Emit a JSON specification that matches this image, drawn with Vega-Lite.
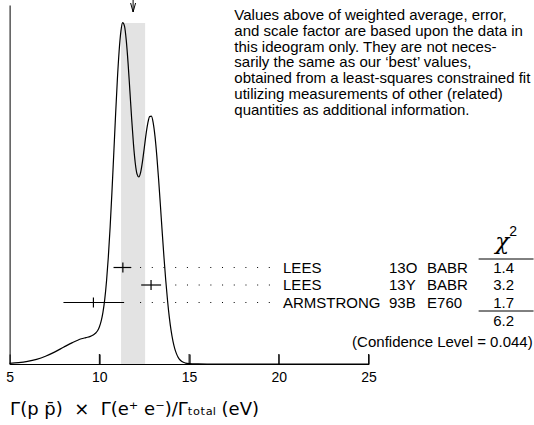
{
  "$schema": "https://vega.github.io/schema/vega-lite/v6.json",
  "width": 359,
  "height": 359,
  "autosize": "none",
  "padding": {"left": 9.6, "top": 5, "right": 165.4, "bottom": 61},
  "background": "white",
  "config": {
    "view": {"stroke": null},
    "axis": {"grid": false, "domainColor": "black", "tickColor": "black", "labelColor": "black", "titleColor": "black"},
    "text": {"font": "Liberation Sans", "fontSize": 15, "color": "black"}
  },
  "resolve": {"axis": {"x": "independent", "y": "independent"}},
  "datasets": {
    "curve": [
      {"x": 5.0, "h": 0.6}, {"x": 5.5, "h": 1.3}, {"x": 6.0, "h": 2.6}, {"x": 6.5, "h": 4.7},
      {"x": 7.0, "h": 7.8}, {"x": 7.5, "h": 11.9}, {"x": 8.0, "h": 16.7}, {"x": 8.5, "h": 21.4},
      {"x": 9.0, "h": 25.2}, {"x": 9.25, "h": 26.4}, {"x": 9.5, "h": 27.6}, {"x": 9.6, "h": 28.5},
      {"x": 9.7, "h": 29.6}, {"x": 9.8, "h": 31.0}, {"x": 9.9, "h": 33.2}, {"x": 10.0, "h": 37.0},
      {"x": 10.1, "h": 42.8}, {"x": 10.2, "h": 51.6}, {"x": 10.3, "h": 64.6}, {"x": 10.4, "h": 83.0},
      {"x": 10.5, "h": 107.0}, {"x": 10.6, "h": 136.8}, {"x": 10.7, "h": 171.4}, {"x": 10.8, "h": 209.2},
      {"x": 10.9, "h": 247.6}, {"x": 11.0, "h": 283.2}, {"x": 11.1, "h": 312.5}, {"x": 11.2, "h": 332.6},
      {"x": 11.3, "h": 341.3}, {"x": 11.4, "h": 337.9}, {"x": 11.5, "h": 323.6}, {"x": 11.6, "h": 300.9},
      {"x": 11.7, "h": 273.4}, {"x": 11.8, "h": 245.2}, {"x": 11.9, "h": 220.1}, {"x": 12.0, "h": 201.0},
      {"x": 12.1, "h": 189.9}, {"x": 12.2, "h": 187.0}, {"x": 12.3, "h": 191.6}, {"x": 12.4, "h": 202.1},
      {"x": 12.5, "h": 215.7}, {"x": 12.6, "h": 229.6}, {"x": 12.7, "h": 240.8}, {"x": 12.8, "h": 247.4},
      {"x": 12.9, "h": 247.8}, {"x": 13.0, "h": 241.1}, {"x": 13.1, "h": 227.6}, {"x": 13.2, "h": 208.4},
      {"x": 13.3, "h": 185.0}, {"x": 13.4, "h": 159.0}, {"x": 13.5, "h": 132.4}, {"x": 13.6, "h": 106.8},
      {"x": 13.7, "h": 83.5}, {"x": 13.8, "h": 63.3}, {"x": 13.9, "h": 46.4}, {"x": 14.0, "h": 33.1},
      {"x": 14.1, "h": 22.8}, {"x": 14.2, "h": 15.4}, {"x": 14.3, "h": 10.1}, {"x": 14.4, "h": 6.4},
      {"x": 14.5, "h": 4.0}, {"x": 14.6, "h": 2.4}, {"x": 14.8, "h": 0.9}, {"x": 15.0, "h": 0.4},
      {"x": 15.5, "h": 0.1}, {"x": 16.0, "h": 0.0}, {"x": 25.0, "h": 0.0}
    ],
    "meas": [
      {"author": "LEES", "code": "13O", "tech": "BABR", "chi2": "1.4", "value": 11.31, "lo": 10.79, "hi": 11.78, "level": 96.5, "dotfrom": 12.27, "dotto": 19.62},
      {"author": "LEES", "code": "13Y", "tech": "BABR", "chi2": "3.2", "value": 12.88, "lo": 12.33, "hi": 13.44, "level": 79, "dotfrom": 14.23, "dotto": 19.62},
      {"author": "ARMSTRONG", "code": "93B", "tech": "E760", "chi2": "1.7", "value": 9.67, "lo": 8.0, "hi": 11.38, "level": 61.5, "dotfrom": 12.27, "dotto": 19.62}
    ],
    "avg": [{"mean": 11.88, "lo": 11.21, "hi": 12.55, "top": 341, "base": 0, "arrowFrom": 352, "arrowTo": 364, "arrowHead": 356.5}],
    "ticks": [
      {"v": 10, "from": 0, "to": 10},
      {"v": 15, "from": 0, "to": 10},
      {"v": 20, "from": 0, "to": 10},
      {"v": 25, "from": 0, "to": 10}
    ],
    "chiLines": [
      {"x1": 31.13, "x2": 34.19, "y": 105},
      {"x1": 31.13, "x2": 34.19, "y": 53}
    ],
    "chiHead": [{"x": 32.45, "y": 122, "label": "χ"}],
    "chiSup": [{"x": 33.05, "y": 132, "label": "2"}],
    "chiSum": [{"x": 32.52, "y": 43, "label": "6.2"}],
    "conf": [{"x": 34.14, "y": 22, "label": "(Confidence Level = 0.044)"}],
    "para": [{"x": 17.52, "y": 356, "label": "Values above of weighted average, error,\nand scale factor are based upon the data in\nthis ideogram only.  They are not neces-\nsarily the same as our ‘best’ values,\nobtained from a least-squares constrained fit\nutilizing measurements of other (related)\nquantities as additional information."}]
  },
  "layer": [
    {
      "data": {"name": "avg"},
      "mark": {"type": "rect", "color": "#e3e3e3"},
      "encoding": {
        "x": {"field": "lo", "type": "quantitative", "scale": {"domain": [5, 25], "nice": false, "zero": false}, "axis": null},
        "x2": {"field": "hi"},
        "y": {"field": "base", "type": "quantitative", "scale": {"domain": [0, 359], "nice": false, "zero": false}, "axis": null},
        "y2": {"field": "top"}
      }
    },
    {
      "data": {"name": "curve"},
      "mark": {"type": "line", "color": "black", "strokeWidth": 1.2, "interpolate": "monotone"},
      "encoding": {
        "x": {
          "field": "x", "type": "quantitative",
          "scale": {"domain": [5, 25], "nice": false, "zero": false},
          "axis": {
            "orient": "bottom",
            "values": [5, 10, 15, 20, 25],
            "ticks": true,
            "tickSize": -10, "tickColor": "black", "tickWidth": 1,
            "domainColor": "black", "domainWidth": 1,
            "grid": false,
            "labelPadding": 16, "labelFont": "Liberation Sans", "labelFontSize": 14, "labelColor": "black",
            "labelFlush": false, "labelOverlap": false,
            "title": "Γ(p p̄)\u00a0\u00a0×\u00a0\u00a0Γ(e⁺\u00a0e⁻)/Γₜₒₜₐₗ\u00a0(eV)",
            "titleFont": "DejaVu Sans", "titleFontSize": 18, "titleFontWeight": "normal", "titleColor": "black",
            "titleAnchor": "start", "titleAlign": "left", "titlePadding": 16
          }
        },
        "y": {
          "field": "h", "type": "quantitative",
          "scale": {"domain": [0, 359], "nice": false, "zero": false},
          "axis": {"orient": "left", "domain": true, "domainColor": "black", "domainWidth": 1, "ticks": false, "labels": false, "grid": false, "title": null}
        }
      }
    },
    {
      "data": {"name": "ticks"},
      "mark": {"type": "rule", "color": "black", "strokeWidth": 1},
      "encoding": {
        "x": {"field": "v", "type": "quantitative", "scale": {"domain": [5, 25], "nice": false, "zero": false}, "axis": null},
        "y": {"field": "from", "type": "quantitative", "scale": {"domain": [0, 359], "nice": false, "zero": false}, "axis": null},
        "y2": {"field": "to"}
      }
    },
    {
      "data": {"name": "avg"},
      "mark": {"type": "rule", "color": "black", "strokeWidth": 1},
      "encoding": {
        "x": {"field": "mean", "type": "quantitative", "scale": {"domain": [5, 25], "nice": false, "zero": false}, "axis": null},
        "y": {"field": "arrowFrom", "type": "quantitative", "scale": {"domain": [0, 359], "nice": false, "zero": false}, "axis": null},
        "y2": {"field": "arrowTo"}
      }
    },
    {
      "data": {"name": "avg"},
      "mark": {"type": "point", "shape": "M-0.55,-1L0,1L0.55,-1", "size": 81, "filled": false, "stroke": "black", "strokeWidth": 1, "opacity": 1},
      "encoding": {
        "x": {"field": "mean", "type": "quantitative", "scale": {"domain": [5, 25], "nice": false, "zero": false}, "axis": null},
        "y": {"field": "arrowHead", "type": "quantitative", "scale": {"domain": [0, 359], "nice": false, "zero": false}, "axis": null}
      }
    },
    {
      "data": {"name": "meas"},
      "mark": {"type": "rule", "color": "black", "strokeWidth": 1, "strokeDash": [1, 10.7]},
      "encoding": {
        "x": {"field": "dotfrom", "type": "quantitative", "scale": {"domain": [5, 25], "nice": false, "zero": false}, "axis": null},
        "x2": {"field": "dotto"},
        "y": {"field": "level", "type": "quantitative", "scale": {"domain": [0, 359], "nice": false, "zero": false}, "axis": null}
      }
    },
    {
      "data": {"name": "meas"},
      "mark": {"type": "rule", "color": "black", "strokeWidth": 1.2},
      "encoding": {
        "x": {"field": "lo", "type": "quantitative", "scale": {"domain": [5, 25], "nice": false, "zero": false}, "axis": null},
        "x2": {"field": "hi"},
        "y": {"field": "level", "type": "quantitative", "scale": {"domain": [0, 359], "nice": false, "zero": false}, "axis": null}
      }
    },
    {
      "data": {"name": "meas"},
      "mark": {"type": "point", "shape": "M0,-1L0,1", "size": 100, "filled": false, "stroke": "black", "strokeWidth": 1.2, "opacity": 1},
      "encoding": {
        "x": {"field": "value", "type": "quantitative", "scale": {"domain": [5, 25], "nice": false, "zero": false}, "axis": null},
        "y": {"field": "level", "type": "quantitative", "scale": {"domain": [0, 359], "nice": false, "zero": false}, "axis": null}
      }
    },
    {
      "data": {"name": "meas"},
      "mark": {"type": "text", "align": "left", "baseline": "middle", "dx": 11},
      "encoding": {
        "x": {"field": "dotto", "type": "quantitative", "scale": {"domain": [5, 25], "nice": false, "zero": false}, "axis": null},
        "y": {"field": "level", "type": "quantitative", "scale": {"domain": [0, 359], "nice": false, "zero": false}, "axis": null},
        "text": {"field": "author", "type": "nominal"}
      }
    },
    {
      "data": {"name": "meas"},
      "mark": {"type": "text", "align": "left", "baseline": "middle", "dx": 117},
      "encoding": {
        "x": {"field": "dotto", "type": "quantitative", "scale": {"domain": [5, 25], "nice": false, "zero": false}, "axis": null},
        "y": {"field": "level", "type": "quantitative", "scale": {"domain": [0, 359], "nice": false, "zero": false}, "axis": null},
        "text": {"field": "code", "type": "nominal"}
      }
    },
    {
      "data": {"name": "meas"},
      "mark": {"type": "text", "align": "left", "baseline": "middle", "dx": 155},
      "encoding": {
        "x": {"field": "dotto", "type": "quantitative", "scale": {"domain": [5, 25], "nice": false, "zero": false}, "axis": null},
        "y": {"field": "level", "type": "quantitative", "scale": {"domain": [0, 359], "nice": false, "zero": false}, "axis": null},
        "text": {"field": "tech", "type": "nominal"}
      }
    },
    {
      "data": {"name": "meas"},
      "mark": {"type": "text", "align": "center", "baseline": "middle", "dx": 231.6},
      "encoding": {
        "x": {"field": "dotto", "type": "quantitative", "scale": {"domain": [5, 25], "nice": false, "zero": false}, "axis": null},
        "y": {"field": "level", "type": "quantitative", "scale": {"domain": [0, 359], "nice": false, "zero": false}, "axis": null},
        "text": {"field": "chi2", "type": "nominal"}
      }
    },
    {
      "data": {"name": "chiHead"},
      "mark": {"type": "text", "align": "center", "baseline": "middle", "fontSize": 23, "font": "DejaVu Serif", "fontStyle": "italic"},
      "encoding": {
        "x": {"field": "x", "type": "quantitative", "scale": {"domain": [5, 25], "nice": false, "zero": false}, "axis": null},
        "y": {"field": "y", "type": "quantitative", "scale": {"domain": [0, 359], "nice": false, "zero": false}, "axis": null},
        "text": {"field": "label", "type": "nominal"}
      }
    },
    {
      "data": {"name": "chiSup"},
      "mark": {"type": "text", "align": "center", "baseline": "middle", "fontSize": 14},
      "encoding": {
        "x": {"field": "x", "type": "quantitative", "scale": {"domain": [5, 25], "nice": false, "zero": false}, "axis": null},
        "y": {"field": "y", "type": "quantitative", "scale": {"domain": [0, 359], "nice": false, "zero": false}, "axis": null},
        "text": {"field": "label", "type": "nominal"}
      }
    },
    {
      "data": {"name": "chiLines"},
      "mark": {"type": "rule", "color": "black", "strokeWidth": 1},
      "encoding": {
        "x": {"field": "x1", "type": "quantitative", "scale": {"domain": [5, 25], "nice": false, "zero": false}, "axis": null},
        "x2": {"field": "x2"},
        "y": {"field": "y", "type": "quantitative", "scale": {"domain": [0, 359], "nice": false, "zero": false}, "axis": null}
      }
    },
    {
      "data": {"name": "chiSum"},
      "mark": {"type": "text", "align": "center", "baseline": "middle"},
      "encoding": {
        "x": {"field": "x", "type": "quantitative", "scale": {"domain": [5, 25], "nice": false, "zero": false}, "axis": null},
        "y": {"field": "y", "type": "quantitative", "scale": {"domain": [0, 359], "nice": false, "zero": false}, "axis": null},
        "text": {"field": "label", "type": "nominal"}
      }
    },
    {
      "data": {"name": "conf"},
      "mark": {"type": "text", "align": "right", "baseline": "middle"},
      "encoding": {
        "x": {"field": "x", "type": "quantitative", "scale": {"domain": [5, 25], "nice": false, "zero": false}, "axis": null},
        "y": {"field": "y", "type": "quantitative", "scale": {"domain": [0, 359], "nice": false, "zero": false}, "axis": null},
        "text": {"field": "label", "type": "nominal"}
      }
    },
    {
      "data": {"name": "para"},
      "mark": {"type": "text", "align": "left", "baseline": "top", "lineHeight": 15.8, "lineBreak": "\n"},
      "encoding": {
        "x": {"field": "x", "type": "quantitative", "scale": {"domain": [5, 25], "nice": false, "zero": false}, "axis": null},
        "y": {"field": "y", "type": "quantitative", "scale": {"domain": [0, 359], "nice": false, "zero": false}, "axis": null},
        "text": {"field": "label", "type": "nominal"}
      }
    }
  ]
}
